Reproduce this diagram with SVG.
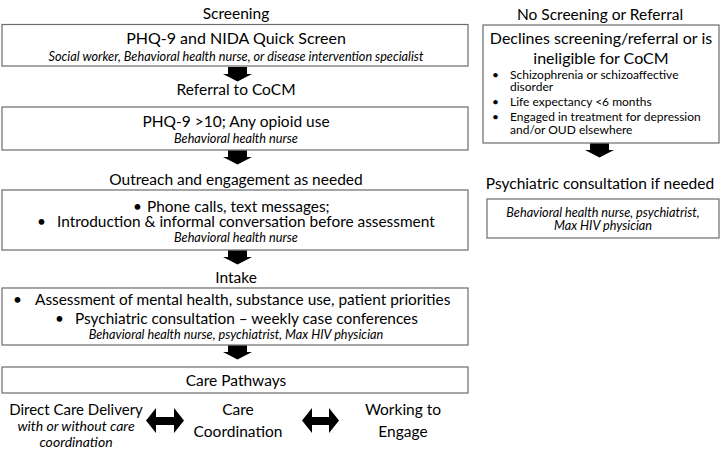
<svg xmlns="http://www.w3.org/2000/svg" width="722" height="450" viewBox="0 0 722 450">
<style>
text{font-family:Lato,"Open Sans","Liberation Sans",sans-serif;fill:#000;}
.h{font-size:15.5px;text-anchor:middle;}
.t{font-size:15.4px;}
.i{font-size:12.7px;font-style:italic;text-anchor:middle;}
.s{font-size:12px;}
.box{fill:#fff;stroke:#6b6b6b;stroke-width:1.2;}
.arr{fill:#000;}
</style>
<rect width="722" height="450" fill="#fff"/>
<g id="title-screening"><text class="h" x="236" y="19">Screening</text></g>
<g id="title-noscreen"><text class="h" x="600" y="20">No Screening or Referral</text></g>
<g id="n-screen">
<rect class="box" x="2" y="24.5" width="466" height="41.5"/>
<text class="h" x="236" y="44" style="font-size:16px">PHQ-9 and NIDA Quick Screen</text>
<text class="i" x="236" y="61">Social worker, Behavioral health nurse, or disease intervention specialist</text>
</g>
<g id="title-referral"><text class="h" x="236" y="95">Referral to CoCM</text></g>
<g id="n-referral">
<rect class="box" x="2" y="107" width="466" height="43"/>
<text class="h" x="236" y="127">PHQ-9 &gt;10; Any opioid use</text>
<text class="i" x="236" y="143">Behavioral health nurse</text>
</g>
<g id="title-outreach"><text class="h" x="236" y="185">Outreach and engagement as needed</text></g>
<g id="n-outreach">
<rect class="box" x="2" y="190" width="466" height="60"/>
<text class="t" x="133" y="212">•</text>
<text class="t" x="147" y="212">Phone calls, text messages;</text>
<text class="t" x="37" y="227">•</text>
<text class="t" x="57" y="227">Introduction &amp; informal conversation before assessment</text>
<text class="i" x="236" y="242">Behavioral health nurse</text>
</g>
<g id="title-intake"><text class="h" x="236" y="283">Intake</text></g>
<g id="n-intake">
<rect class="box" x="2" y="288" width="466" height="57"/>
<text class="t" x="13" y="305">•</text>
<text class="t" x="35" y="305">Assessment of mental health, substance use, patient priorities</text>
<text class="t" x="55" y="324">•</text>
<text class="t" x="75" y="324">Psychiatric consultation – weekly case conferences</text>
<text class="i" x="236" y="339">Behavioral health nurse, psychiatrist, Max HIV physician</text>
</g>
<g id="n-pathways">
<rect class="box" x="2" y="367" width="466" height="26"/>
<text class="h" x="236" y="386">Care Pathways</text>
</g>
<g id="n-direct">
<text class="h" x="76" y="415" style="font-size:15px">Direct Care Delivery</text>
<text class="i" x="76" y="431" style="font-size:14px">with or without care</text>
<text class="i" x="76" y="447" style="font-size:14px">coordination</text>
</g>
<g id="n-coord">
<text class="h" x="238" y="415">Care</text>
<text class="h" x="238" y="437">Coordination</text>
</g>
<g id="n-engage">
<text class="h" x="403" y="415">Working to</text>
<text class="h" x="403" y="437">Engage</text>
</g>
<g id="n-declines">
<rect class="box" x="483" y="25" width="236" height="118"/>
<text class="h" x="601" y="44" style="font-size:16px">Declines screening/referral or is</text>
<text class="h" x="601" y="64" style="font-size:16px">ineligible for CoCM</text>
<text class="s" x="492" y="79">•</text>
<text class="s" x="510" y="79">Schizophrenia or schizoaffective</text>
<text class="s" x="510" y="91">disorder</text>
<text class="s" x="492" y="106">•</text>
<text class="s" x="510" y="106">Life expectancy &lt;6 months</text>
<text class="s" x="492" y="121">•</text>
<text class="s" x="510" y="121">Engaged in treatment for depression</text>
<text class="s" x="510" y="134">and/or OUD elsewhere</text>
</g>
<g id="title-psych"><text class="h" x="600" y="189">Psychiatric consultation if needed</text></g>
<g id="n-psych">
<rect class="box" x="487" y="199" width="232" height="39"/>
<text class="i" x="603" y="217">Behavioral health nurse, psychiatrist,</text>
<text class="i" x="603" y="230">Max HIV physician</text>
</g>
<g id="connectors">
<path class="arr" d="M228,67 H247 V74 H252 L237.5,81.5 L223,74 H228 Z"/>
<path class="arr" d="M228,150.5 H247 V157 H252 L237.5,164.5 L223,157 H228 Z"/>
<path class="arr" d="M228,250.5 H247 V257 H252 L237.5,264.5 L223,257 H228 Z"/>
<path class="arr" d="M228,345.5 H247 V352 H252 L237.5,359.5 L223,352 H228 Z"/>
<path class="arr" d="M590,143.5 H609 V150 H614 L599.5,157.5 L585,150 H590 Z"/>
<path class="arr" d="M146,420.5 L156,408 V417 H174 V408 L184,420.5 L174,433 V425 H156 V433 Z"/>
<path class="arr" d="M302,420.5 L312,408 V417 H329 V408 L339,420.5 L329,433 V425 H312 V433 Z"/>
</g>
</svg>
